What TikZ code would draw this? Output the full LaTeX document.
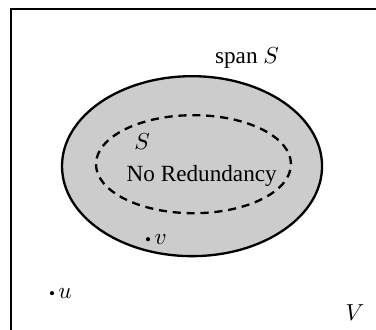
\documentclass[tikz,border=0pt]{standalone}
\usepackage{fontspec}
\setmainfont{Liberation Serif}
\begin{document}
\begin{tikzpicture}[
        setlbl/.style={font=\normalsize, inner sep=1pt},
        spanset/.style={draw=black, fill=black!20, line width=1pt},
        indset/.style={draw=black, dash pattern=on 3.5pt off 2.5pt, line width=1pt},
        frame/.style={draw=black, line width=1pt},
        vecdot/.style={circle, fill=black, inner sep=0pt, minimum size=1.8pt}
      ]
      \useasboundingbox (0,0) rectangle (5.70,4.99);
      \clip (0,0) rectangle (5.70,4.99);
      \draw[frame] (0.167,-1) rectangle (7,4.85);
      \path[spanset] (2.911,2.471) ellipse [x radius=1.971, y radius=1.364];
      \path[indset] (2.933,2.501) ellipse [x radius=1.478, y radius=0.743];
      \node[setlbl] (spanlbl) at (3.745,4.108) {span $S$};
      \node[setlbl] (slbl) at (2.153,2.850) {$S$};
      \node[setlbl] (redlbl) at (3.058,2.319) {No Redundancy};
      \node[vecdot, label={[setlbl, label distance=0.5pt]right:$v$}] (v) at (2.244,1.364) {};
      \node[vecdot, label={[setlbl, label distance=0.5pt]right:$u$}] (u) at (0.788,0.546) {};
      \node[setlbl] (vlbl) at (5.382,0.258) {$V$};
    \end{tikzpicture}
\end{document}
